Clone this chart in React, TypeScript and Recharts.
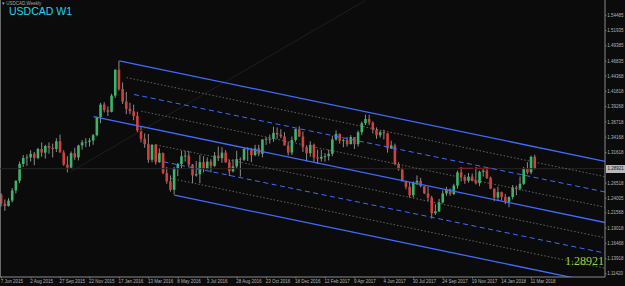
import React from 'react';
import { ComposedChart, Bar, XAxis, YAxis, ReferenceLine } from 'recharts';

// weekly USDCAD candles, 7 Jun 2015 .. 18 Mar 2018
const opens = [
  1.2460, 1.2310, 1.2270, 1.2360, 1.2530, 1.2690, 1.2970, 1.3070, 1.3080, 1.3140,
  1.3070, 1.3220, 1.3160, 1.3270, 1.3240, 1.3220, 1.3350, 1.3160, 1.2960, 1.2910,
  1.3150, 1.3080, 1.3280, 1.3330, 1.3340, 1.3360, 1.3450, 1.3750, 1.3960, 1.3870,
  1.3840, 1.4110, 1.4540, 1.4220, 1.4010, 1.3890, 1.3850, 1.3770, 1.3530, 1.3390,
  1.3300, 1.3040, 1.3290, 1.3000, 1.3150, 1.2820, 1.2680, 1.2540, 1.2900, 1.2970,
  1.3100, 1.3110, 1.2960, 1.2780, 1.2800, 1.3000, 1.2890, 1.3010, 1.2940, 1.3110,
  1.3070, 1.3160, 1.3000, 1.2850, 1.2930, 1.3050, 1.3040, 1.3220, 1.3210, 1.3120,
  1.3230, 1.3140, 1.3380, 1.3390, 1.3390, 1.3490, 1.3460, 1.3430, 1.3280, 1.3160,
  1.3370, 1.3550, 1.3430, 1.3250, 1.3150, 1.3290, 1.3080, 1.3060, 1.3090, 1.3100,
  1.3140, 1.3380, 1.3470, 1.3360, 1.3370, 1.3300, 1.3420, 1.3300, 1.3500, 1.3650,
  1.3720, 1.3660, 1.3540, 1.3450, 1.3500, 1.3480, 1.3230, 1.3280, 1.2970, 1.2880,
  1.2680, 1.2590, 1.2450, 1.2660, 1.2690, 1.2600, 1.2480, 1.2410, 1.2150, 1.2180,
  1.2330, 1.2480, 1.2550, 1.2470, 1.2610, 1.2830, 1.2750, 1.2690, 1.2760, 1.2690,
  1.2650, 1.2840, 1.2860, 1.2740, 1.2560, 1.2410, 1.2500, 1.2420, 1.2340, 1.2420,
  1.2580, 1.2560, 1.2640, 1.2890, 1.2830, 1.3090,
];
const highs = [
  1.2480, 1.2380, 1.2400, 1.2570, 1.2700, 1.3010, 1.3120, 1.3130, 1.3200, 1.3170,
  1.3240, 1.3330, 1.3290, 1.3330, 1.3310, 1.3400, 1.3460, 1.3200, 1.3100, 1.3180,
  1.3240, 1.3290, 1.3370, 1.3400, 1.3400, 1.3470, 1.3760, 1.3990, 1.4000, 1.3930,
  1.4140, 1.4550, 1.4690, 1.4330, 1.4170, 1.3990, 1.3960, 1.3840, 1.3600, 1.3480,
  1.3470, 1.3300, 1.3300, 1.3230, 1.3160, 1.2920, 1.2780, 1.2920, 1.2990, 1.3190,
  1.3190, 1.3190, 1.2970, 1.3020, 1.3120, 1.3100, 1.3080, 1.3050, 1.3170, 1.3260,
  1.3250, 1.3200, 1.3040, 1.3050, 1.3190, 1.3080, 1.3250, 1.3250, 1.3240, 1.3290,
  1.3290, 1.3380, 1.3420, 1.3460, 1.3590, 1.3580, 1.3550, 1.3500, 1.3340, 1.3430,
  1.3560, 1.3600, 1.3510, 1.3270, 1.3350, 1.3310, 1.3210, 1.3210, 1.3150, 1.3210,
  1.3440, 1.3530, 1.3480, 1.3390, 1.3420, 1.3450, 1.3420, 1.3530, 1.3680, 1.3790,
  1.3790, 1.3680, 1.3580, 1.3530, 1.3540, 1.3490, 1.3360, 1.3310, 1.3000, 1.2910,
  1.2690, 1.2670, 1.2680, 1.2780, 1.2740, 1.2600, 1.2590, 1.2440, 1.2300, 1.2390,
  1.2530, 1.2590, 1.2560, 1.2640, 1.2860, 1.2920, 1.2790, 1.2820, 1.2810, 1.2920,
  1.2860, 1.2890, 1.2910, 1.2760, 1.2560, 1.2590, 1.2510, 1.2470, 1.2430, 1.2620,
  1.2610, 1.2760, 1.2920, 1.3000, 1.3110, 1.3125,
];
const lows = [
  1.2260, 1.2190, 1.2260, 1.2330, 1.2480, 1.2650, 1.2920, 1.2940, 1.3010, 1.2950,
  1.3050, 1.3090, 1.3060, 1.3140, 1.3080, 1.3170, 1.3240, 1.2940, 1.2830, 1.2900,
  1.3040, 1.3030, 1.3210, 1.3250, 1.3260, 1.3290, 1.3430, 1.3650, 1.3830, 1.3770,
  1.3830, 1.4070, 1.4190, 1.3970, 1.3800, 1.3800, 1.3700, 1.3500, 1.3330, 1.3240,
  1.2990, 1.3000, 1.2960, 1.2990, 1.2800, 1.2640, 1.2510, 1.2460, 1.2770, 1.2890,
  1.3010, 1.2920, 1.2650, 1.2760, 1.2650, 1.2830, 1.2880, 1.2830, 1.2920, 1.3020,
  1.2990, 1.2990, 1.2770, 1.2830, 1.2900, 1.2760, 1.3020, 1.3020, 1.3000, 1.3100,
  1.3100, 1.3080, 1.3290, 1.3310, 1.3340, 1.3390, 1.3400, 1.3280, 1.3110, 1.3120,
  1.3340, 1.3420, 1.3170, 1.3010, 1.3090, 1.3000, 1.2970, 1.3010, 1.3010, 1.3030,
  1.3100, 1.3360, 1.3310, 1.3250, 1.3260, 1.3300, 1.3220, 1.3260, 1.3450, 1.3620,
  1.3620, 1.3480, 1.3390, 1.3410, 1.3380, 1.3160, 1.3220, 1.2950, 1.2860, 1.2680,
  1.2550, 1.2410, 1.2410, 1.2620, 1.2580, 1.2470, 1.2350, 1.2060, 1.2120, 1.2170,
  1.2310, 1.2440, 1.2440, 1.2450, 1.2560, 1.2680, 1.2640, 1.2660, 1.2680, 1.2630,
  1.2600, 1.2760, 1.2720, 1.2550, 1.2350, 1.2360, 1.2360, 1.2300, 1.2250, 1.2380,
  1.2450, 1.2530, 1.2620, 1.2800, 1.2800, 1.2880,
];
const closes = [
  1.2310, 1.2270, 1.2360, 1.2530, 1.2690, 1.2970, 1.3070, 1.3080, 1.3140, 1.3070,
  1.3220, 1.3160, 1.3270, 1.3240, 1.3220, 1.3350, 1.3160, 1.2960, 1.2910, 1.3150,
  1.3080, 1.3280, 1.3330, 1.3340, 1.3360, 1.3450, 1.3750, 1.3960, 1.3870, 1.3840,
  1.4110, 1.4540, 1.4220, 1.4010, 1.3890, 1.3850, 1.3770, 1.3530, 1.3390, 1.3300,
  1.3040, 1.3290, 1.3000, 1.3150, 1.2820, 1.2680, 1.2540, 1.2900, 1.2970, 1.3100,
  1.3110, 1.2960, 1.2780, 1.2800, 1.3000, 1.2890, 1.3010, 1.2940, 1.3110, 1.3070,
  1.3160, 1.3000, 1.2850, 1.2930, 1.3050, 1.3040, 1.3220, 1.3210, 1.3120, 1.3230,
  1.3140, 1.3380, 1.3390, 1.3390, 1.3490, 1.3460, 1.3430, 1.3280, 1.3160, 1.3370,
  1.3550, 1.3430, 1.3250, 1.3150, 1.3290, 1.3080, 1.3060, 1.3090, 1.3100, 1.3140,
  1.3380, 1.3470, 1.3360, 1.3370, 1.3300, 1.3420, 1.3300, 1.3500, 1.3650, 1.3720,
  1.3660, 1.3540, 1.3450, 1.3500, 1.3480, 1.3230, 1.3280, 1.2970, 1.2880, 1.2680,
  1.2590, 1.2450, 1.2660, 1.2690, 1.2600, 1.2480, 1.2410, 1.2150, 1.2180, 1.2330,
  1.2480, 1.2550, 1.2470, 1.2610, 1.2830, 1.2750, 1.2690, 1.2760, 1.2690, 1.2650,
  1.2840, 1.2860, 1.2740, 1.2560, 1.2410, 1.2500, 1.2420, 1.2340, 1.2420, 1.2580,
  1.2560, 1.2640, 1.2890, 1.2830, 1.3090, 1.2892,
];

const timeTickIdx = [0, 8, 16, 24, 32, 40, 48, 56, 64, 72, 80, 88, 96, 104, 112, 120, 128, 136, 144];
const timeLabels = [
  '7 Jun 2015', '2 Aug 2015', '27 Sep 2015', '22 Nov 2015', '17 Jan 2016', '13 Mar 2016',
  '8 May 2016', '3 Jul 2016', '28 Aug 2016', '23 Oct 2016', '18 Dec 2016', '12 Feb 2017',
  '9 Apr 2017', '4 Jun 2017', '30 Jul 2017', '24 Sep 2017', '19 Nov 2017', '14 Jan 2018',
  '11 Mar 2018',
];
const priceTicks = [
  1.54485, 1.51935, 1.49385, 1.46835, 1.44368, 1.41818, 1.39268, 1.36718, 1.34168,
  1.31618, 1.26518, 1.24005, 1.21568, 1.19018, 1.16468, 1.13918, 1.11420,
];
const bid = 1.28921;

// channel lines: [startIdx, startPrice, endIdx, endPrice]
const solidLines = [
  [32, 1.4690, 164, 1.3014],
  [25, 1.3760, 164, 1.1995],
  [47, 1.2450, 164, 1.0964],
];
const dashedLines = [
  [36, 1.4129, 164, 1.2504],
  [44, 1.3008, 164, 1.1485],
];
const dottedLines = [
  [34, 1.4410, 164, 1.2759],
  [38, 1.3850, 164, 1.2250],
  [42, 1.3289, 164, 1.1740],
  [46, 1.2729, 164, 1.1231],
];
const faintLines = [
  [18.6, 1.2837, 99, 1.5700],
];
const redLevels = [
  [124.1, 1.2900, 128.1, 1.2900],
  [128.9, 1.2900, 133.3, 1.2900],
];

const data = opens.map((o, i) => ({
  i,
  open: o,
  high: highs[i],
  low: lows[i],
  close: closes[i],
  range: [lows[i], highs[i]],
}));

const BG = '#0b0b0b';
const AXIS = '#8a8a8a';
const TXT = '#b4b4b4';
const BULL = '#3bb46c';
const BEAR = '#d2403c';
const WICK = '#9a9a9a';
const BLUE = '#3e6cff';

const Candle = (props: any) => {
  const { x, y, width, height, payload } = props;
  if (!payload) return null;
  const { open, close, high, low } = payload;
  const top = height < 0 ? y + height : y;
  const h = Math.abs(height);
  const cx = x + width / 2;
  const k = high > low ? h / (high - low) : 0;
  const yO = top + (high - open) * k;
  const yC = top + (high - close) * k;
  const up = close >= open;
  return (
    <g>
      <line x1={cx} x2={cx} y1={top} y2={top + h} stroke={WICK} strokeWidth={0.9} />
      <rect x={cx - 1.3} y={Math.min(yO, yC)} width={2.6} height={Math.max(Math.abs(yC - yO), 0.8)} fill={up ? BULL : BEAR} />
    </g>
  );
};

const TimeTick = (props: any) => {
  const { x, y, payload } = props;
  const label = timeLabels[timeTickIdx.indexOf(payload.value)];
  return (
    <g>
      <line x1={x} x2={x} y1={y} y2={y + 1.5} stroke={AXIS} strokeWidth={0.8} />
      <text x={x - 0.8} y={y + 6} fill={TXT} fontSize={4.5} fontFamily="Liberation Sans, Arial, sans-serif" textAnchor="start">
        {label}
      </text>
    </g>
  );
};

const PriceTick = (props: any) => {
  const { x, y, payload } = props;
  return (
    <g>
      <line x1={x} x2={x + 1.5} y1={y} y2={y} stroke={AXIS} strokeWidth={0.8} />
      <text x={x + 2.2} y={y + 1.6} fill={TXT} fontSize={4.5} fontFamily="Liberation Sans, Arial, sans-serif" textAnchor="start">
        {payload.value.toFixed(5)}
      </text>
    </g>
  );
};

const seg = (l: number[]) => [
  { x: l[0], y: l[1] },
  { x: l[2], y: l[3] },
];

export default function App() {
  return (
    <div style={{ position: 'absolute', left: 0, top: 0, width: 625, height: 286, background: BG, overflow: 'hidden' }}>
      <ComposedChart width={625} height={286} data={data} margin={{ top: 0, right: 0, bottom: 0, left: 0 }}>
        <XAxis
          type="number"
          dataKey="i"
          domain={[-0.41, 164]}
          allowDataOverflow
          ticks={timeTickIdx}
          interval={0}
          height={9}
          axisLine={{ stroke: AXIS, strokeWidth: 1 }}
          tickLine={false}
          tickSize={0}
          tickMargin={0}
          tick={<TimeTick />}
        />
        <YAxis
          orientation="right"
          domain={[1.10868, 1.57035]}
          allowDataOverflow
          ticks={priceTicks}
          interval={0}
          width={20}
          axisLine={{ stroke: AXIS, strokeWidth: 1 }}
          tickLine={false}
          tickSize={0}
          tickMargin={0}
          tick={<PriceTick />}
        />
        <ReferenceLine x={-0.41} stroke={AXIS} strokeWidth={1.5} />
        <ReferenceLine y={bid} stroke="#262626" strokeWidth={1} />
        {faintLines.map((l, k) => (
          <ReferenceLine key={'f' + k} segment={seg(l)} stroke="#1f1f1f" strokeWidth={1} ifOverflow="hidden" />
        ))}
        {dottedLines.map((l, k) => (
          <ReferenceLine key={'d' + k} segment={seg(l)} stroke="#7a7a7a" strokeWidth={0.8} strokeDasharray="1.5 2" ifOverflow="hidden" />
        ))}
        {dashedLines.map((l, k) => (
          <ReferenceLine key={'m' + k} segment={seg(l)} stroke={BLUE} strokeWidth={1} strokeDasharray="5 3.5" ifOverflow="hidden" />
        ))}
        {solidLines.map((l, k) => (
          <ReferenceLine key={'s' + k} segment={seg(l)} stroke={BLUE} strokeWidth={1.3} ifOverflow="hidden" />
        ))}
        {redLevels.map((l, k) => (
          <ReferenceLine key={'r' + k} segment={seg(l)} stroke="#9a1e1e" strokeWidth={1} ifOverflow="hidden" />
        ))}
        <Bar dataKey="range" barSize={3} shape={(p: any) => <Candle {...p} />} isAnimationActive={false} />
      </ComposedChart>
      <div style={{ position: 'absolute', left: 2, top: 1, fontSize: 4.5, color: '#a8a8a8', fontFamily: 'Liberation Sans, Arial, sans-serif', whiteSpace: 'nowrap' }}>
        ▾ USDCAD,Weekly
      </div>
      <div style={{ position: 'absolute', left: 9, top: 6, fontSize: 10.5, color: '#1ed6ee', fontFamily: 'Liberation Sans, Arial, sans-serif', whiteSpace: 'nowrap', lineHeight: '11px' }}>
        USDCAD W1
      </div>
      <div style={{ position: 'absolute', right: 21, top: 255, fontSize: 12, color: '#9bd23a', fontFamily: 'Liberation Serif, Times New Roman, serif', whiteSpace: 'nowrap', lineHeight: '13px' }}>
        1.28921
      </div>
      <div style={{ position: 'absolute', left: 606, top: 165, width: 19, height: 8, background: '#b9b9b9', color: '#111', fontSize: 4.5, lineHeight: '8px', fontFamily: 'Liberation Sans, Arial, sans-serif', paddingLeft: 1.5, boxSizing: 'border-box' }}>
        1.28921
      </div>
    </div>
  );
}
